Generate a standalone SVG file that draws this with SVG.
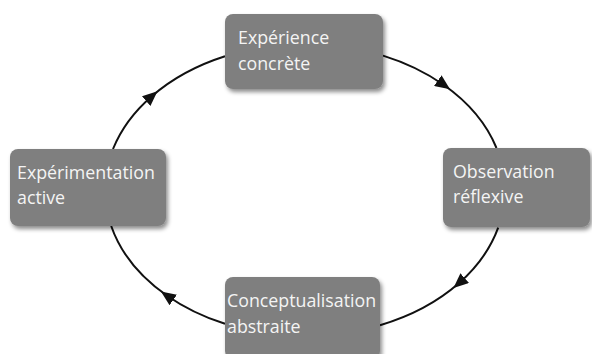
<svg xmlns="http://www.w3.org/2000/svg" width="592" height="354" viewBox="0 0 592 354">
  <style>
    .box { fill: #7f7f7f; filter: url(#shadow); }
    .label { font-family: "Open Sans", "Liberation Sans", sans-serif; font-size: 17.8px; fill: #f4f4f4; }
    .conn { fill: none; stroke: #111; stroke-width: 2; marker-mid: url(#arrow); }
  </style>
  <defs>
    <filter id="shadow" x="-10%" y="-10%" width="125%" height="135%">
      <feDropShadow dx="2" dy="3" stdDeviation="2" flood-color="#000" flood-opacity="0.45"/>
    </filter>
    <marker id="arrow" viewBox="0 0 15 13" markerWidth="15" markerHeight="13" markerUnits="userSpaceOnUse" refX="7.5" refY="6.5" orient="auto">
      <path d="M0,0 L15,6.5 L0,13 z" fill="#111"/>
    </marker>
  </defs>

  <!-- cycle connectors: clockwise arcs of one ellipse, arrowhead at each midpoint -->
  <g id="connectors">
    <path class="conn" d="M113,149 A200,146 0 0,1 151.8,96.2 A200,146 0 0,1 225,56.2"/>
    <path class="conn" d="M383,55.6 A200,146 0 0,1 443.9,85 A200,146 0 0,1 496.5,148"/>
    <path class="conn" d="M498.2,227.7 A200,146 0 0,1 459.1,283.1 A200,146 0 0,1 380,325.3"/>
    <path class="conn" d="M225,323.8 A200,146 0 0,1 167.1,295.7 A200,146 0 0,1 111.2,226"/>
  </g>

  <g id="experience-concrete">
    <rect class="box" x="225" y="14" width="158" height="75" rx="8"/>
    <text class="label" x="238" y="44">Expérience<tspan x="238" y="70">concrète</tspan></text>
  </g>

  <g id="observation-reflexive">
    <rect class="box" x="443" y="148" width="147" height="79" rx="8"/>
    <text class="label" x="453" y="178">Observation<tspan x="453" y="203">réflexive</tspan></text>
  </g>

  <g id="conceptualisation-abstraite">
    <rect class="box" x="225" y="277" width="155" height="82" rx="8"/>
    <text class="label" x="227" y="307">Conceptualisation<tspan x="227" y="333">abstraite</tspan></text>
  </g>

  <g id="experimentation-active">
    <rect class="box" x="10" y="149" width="156" height="77" rx="8"/>
    <text class="label" x="17" y="179">Expérimentation<tspan x="17" y="204">active</tspan></text>
  </g>
</svg>
